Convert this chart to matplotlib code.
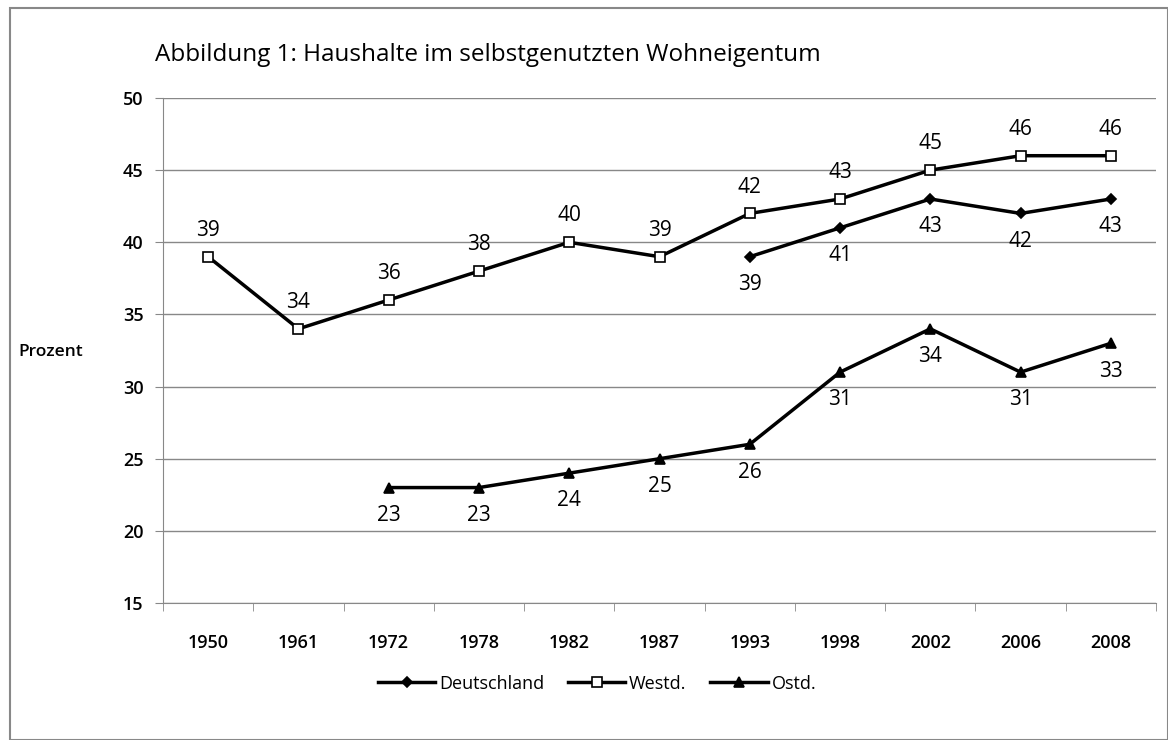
import matplotlib.pyplot as plt
import numpy as np
from matplotlib.patches import Rectangle

years = ['1950', '1961', '1972', '1978', '1982', '1987', '1993', '1998', '2002', '2006', '2008']
deutschland = [None, None, None, None, None, None, 39, 41, 43, 42, 43]
westd = [39, 34, 36, 38, 40, 39, 42, 43, 45, 46, 46]
ostd = [None, None, 23, 23, 24, 25, 26, 31, 34, 31, 33]

plt.rcParams['font.family'] = ['Open Sans', 'DejaVu Sans']

fig = plt.figure(figsize=(11.68, 7.4), dpi=100)
ax = fig.add_axes([163/1168, 137/740, (1156-163)/1168, (603-98)/740])

x = np.arange(len(years))

def series(vals, marker, label, face, below):
    xs = [i for i, v in enumerate(vals) if v is not None]
    ys = [v for v in vals if v is not None]
    ax.plot(xs, ys, color='black', lw=2.5, marker=marker, ms=7 if marker != 'D' else 5,
            mfc=face, mec='black', mew=1.2, label=label, zorder=3)
    for a, b in zip(xs, ys):
        off = -20 if below else 19
        ax.annotate(str(b), (a, b), xytext=(0, off), textcoords='offset points',
                    ha='center', va='center', fontsize=15)

series(deutschland, 'D', 'Deutschland', 'black', True)
series(westd, 's', 'Westd.', 'white', False)
series(ostd, '^', 'Ostd.', 'black', True)

ax.set_xlim(-0.5, len(years) - 0.5)
ax.set_ylim(15, 50)
ax.set_yticks(range(15, 51, 5))
ax.set_xticks(x)
ax.set_xticklabels(years)
ax.set_xticks(np.arange(-0.5, len(years), 1), minor=True)
ax.tick_params(axis='x', which='major', length=0, pad=22, labelsize=13)
ax.tick_params(axis='x', which='minor', length=6, color='#888888')
ax.tick_params(axis='y', length=6, color='#888888', labelsize=13, pad=8)
for lab in ax.get_xticklabels() + ax.get_yticklabels():
    lab.set_fontweight('semibold')
ax.grid(axis='y', color='#888888', lw=1)
ax.set_axisbelow(True)
for s in ['top', 'right']:
    ax.spines[s].set_visible(False)
ax.spines['left'].set_color('#888888')
ax.spines['bottom'].set_color('#888888')

fig.text(155/1168, 1 - 55/740, 'Abbildung 1: Haushalte im selbstgenutzten Wohneigentum',
         fontsize=17.5, ha='left', va='center')
fig.text(18/1168, 1 - 352/740, 'Prozent', fontsize=12.5, fontweight='semibold', ha='left', va='center')

ax.legend(loc='center', bbox_to_anchor=(0.437, -0.16), ncol=3, frameon=False, fontsize=13,
          handlelength=3.2, columnspacing=1.3, handletextpad=0.2)

fig.patches.append(Rectangle((10/1168, 0), 1 - 10/1168, 1 - 8/740, transform=fig.transFigure,
                             fill=False, edgecolor='#888888', lw=1.5))

fig.savefig('out.png', dpi=100)
